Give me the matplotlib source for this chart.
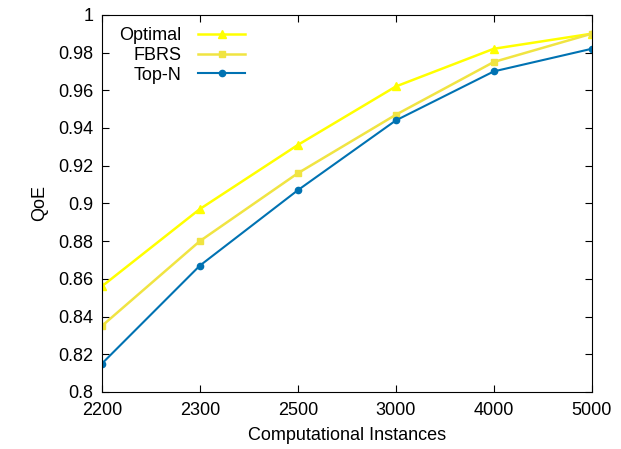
import matplotlib
matplotlib.use('Agg')
import matplotlib.pyplot as plt

# data
instances = ['2200', '2300', '2500', '3000', '4000', '5000']
optimal = [0.856, 0.897, 0.931, 0.962, 0.982, 0.990]
fbrs = [0.835, 0.880, 0.916, 0.947, 0.975, 0.990]
topn = [0.815, 0.867, 0.907, 0.944, 0.970, 0.982]

plt.rcParams['font.family'] = 'Liberation Sans'

fig = plt.figure(figsize=(6.21, 4.49), dpi=100)
ax = fig.add_axes([0.164, 0.127, 0.789, 0.840])

x = range(len(instances))
ax.plot(x, optimal, '-^', color='#ffff00', lw=1.8, ms=6, label='Optimal')
ax.plot(x, fbrs, '-s', color='#f0e442', lw=1.8, ms=5, label='FBRS')
ax.plot(x, topn, '-o', color='#0072b2', lw=1.5, ms=4.5, label='Top-N')

ax.set_xlim(0, len(instances) - 1)
ax.set_ylim(0.8, 1.0)
ax.set_xticks(list(x))
ax.set_xticklabels(instances)
ax.set_yticks([0.8, 0.82, 0.84, 0.86, 0.88, 0.9, 0.92, 0.94, 0.96, 0.98, 1.0])
ax.set_yticklabels(['0.8', '0.82', '0.84', '0.86', '0.88', '0.9', '0.92',
                    '0.94', '0.96', '0.98', '1'])
ax.tick_params(direction='in', top=True, right=True, labelsize=13, length=5)
ax.tick_params(axis='x', pad=7)
ax.tick_params(axis='y', pad=6)

ax.set_xlabel('Computational Instances', fontsize=13, labelpad=6)
ax.set_ylabel('QoE', fontsize=13, labelpad=7)

ax.legend(loc='upper left', frameon=False, markerfirst=False, fontsize=13,
          handlelength=2.6, labelspacing=0.15, handletextpad=0.9,
          bbox_to_anchor=(0.003, 1.01))
for t in ax.get_legend().get_texts():
    t.set_ha('right')

fig.savefig('out.png', dpi=100)
